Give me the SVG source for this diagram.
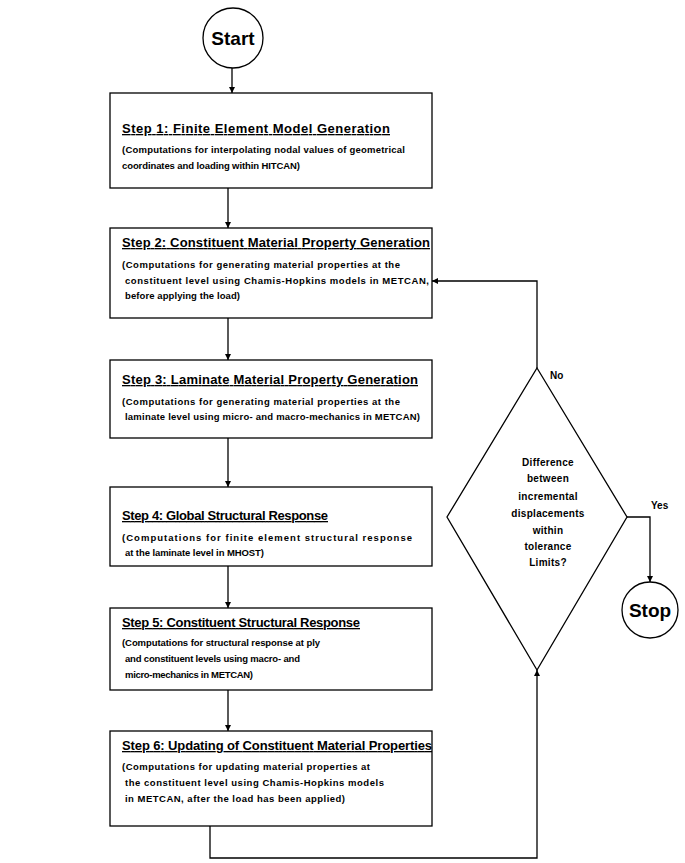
<svg xmlns="http://www.w3.org/2000/svg" width="685" height="863" viewBox="0 0 685 863">
<style>
.b{fill:#fff;stroke:#000;stroke-width:1.3}
.l{fill:none;stroke:#000;stroke-width:1.3}
.t{font-family:"Liberation Sans",Arial,sans-serif;font-weight:bold;font-size:13px;text-decoration:underline;fill:#000}
.d{font-family:"Liberation Sans",Arial,sans-serif;font-weight:bold;font-size:9.5px;fill:#000}
.c{font-family:"Liberation Sans",Arial,sans-serif;font-weight:bold;font-size:10px;fill:#000;text-anchor:middle;letter-spacing:0.3px}
.n{font-family:"Liberation Sans",Arial,sans-serif;font-weight:bold;font-size:19px;fill:#000;text-anchor:middle}
.y{font-family:"Liberation Sans",Arial,sans-serif;font-weight:bold;font-size:10px;fill:#000}
</style>
<defs>
<marker id="a" viewBox="0 0 10 10" refX="10" refY="5" markerWidth="6" markerHeight="8" orient="auto" markerUnits="userSpaceOnUse"><path d="M0,0 L10,5 L0,10 z" fill="#000"/></marker>
</defs>
<g id="connectors">
<line class="l" x1="232" y1="68" x2="232" y2="93" marker-end="url(#a)"/>
<line class="l" x1="228" y1="188" x2="228" y2="228" marker-end="url(#a)"/>
<line class="l" x1="228" y1="318" x2="228" y2="360" marker-end="url(#a)"/>
<line class="l" x1="228" y1="438" x2="228" y2="487" marker-end="url(#a)"/>
<line class="l" x1="228" y1="566" x2="228" y2="608" marker-end="url(#a)"/>
<line class="l" x1="228" y1="690" x2="228" y2="731" marker-end="url(#a)"/>
<polyline class="l" points="210,826 210,858 537,858 537,670" marker-end="url(#a)"/>
<polyline class="l" points="537,368 537,281 432,281" marker-end="url(#a)"/>
<polyline class="l" points="627,517 650,517 650,582" marker-end="url(#a)"/>
<text class="y" x="550" y="379">No</text>
<text class="y" x="651" y="509">Yes</text>
</g>
<g id="start">
<circle class="b" cx="233" cy="38" r="30"/>
<text class="n" x="233" y="45">Start</text>
</g>
<g id="step1">
<rect class="b" x="110" y="93" width="322" height="95"/>
<text class="t" x="122" y="133" textLength="268" lengthAdjust="spacing">Step 1: Finite Element Model Generation</text>
<text class="d" x="122" y="153" textLength="283" lengthAdjust="spacing">(Computations for interpolating nodal values of geometrical</text>
<text class="d" x="122" y="169" textLength="178" lengthAdjust="spacing">coordinates and loading within HITCAN)</text>
</g>
<g id="step2">
<rect class="b" x="110" y="228" width="322" height="90"/>
<text class="t" x="122" y="247" textLength="308" lengthAdjust="spacing">Step 2: Constituent Material Property Generation</text>
<text class="d" x="122" y="268" textLength="278" lengthAdjust="spacing">(Computations for generating material properties at the</text>
<text class="d" x="125" y="284" textLength="304" lengthAdjust="spacing">constituent level using Chamis-Hopkins models in METCAN,</text>
<text class="d" x="125" y="299" textLength="115" lengthAdjust="spacing">before applying the load)</text>
</g>
<g id="step3">
<rect class="b" x="110" y="360" width="322" height="78"/>
<text class="t" x="122" y="384" textLength="296" lengthAdjust="spacing">Step 3: Laminate Material Property Generation</text>
<text class="d" x="122" y="405" textLength="278" lengthAdjust="spacing">(Computations for generating material properties at the</text>
<text class="d" x="125" y="420" textLength="295" lengthAdjust="spacing">laminate level using micro- and macro-mechanics in METCAN)</text>
</g>
<g id="step4">
<rect class="b" x="110" y="487" width="322" height="79"/>
<text class="t" x="122" y="520" textLength="206" lengthAdjust="spacing">Step 4: Global Structural Response</text>
<text class="d" x="122" y="541" textLength="290" lengthAdjust="spacing">(Computations for finite element structural response</text>
<text class="d" x="125" y="556" textLength="139" lengthAdjust="spacing">at the laminate level in MHOST)</text>
</g>
<g id="step5">
<rect class="b" x="110" y="608" width="322" height="82"/>
<text class="t" x="122" y="627" textLength="238" lengthAdjust="spacing">Step 5: Constituent Structural Response</text>
<text class="d" x="122" y="646" textLength="198" lengthAdjust="spacing">(Computations for structural response at ply</text>
<text class="d" x="125" y="662" textLength="175" lengthAdjust="spacing">and constituent levels using macro- and</text>
<text class="d" x="125" y="678" textLength="128" lengthAdjust="spacing">micro-mechanics in METCAN)</text>
</g>
<g id="step6">
<rect class="b" x="110" y="731" width="322" height="95"/>
<text class="t" x="122" y="750" textLength="310" lengthAdjust="spacing">Step 6: Updating of Constituent Material Properties</text>
<text class="d" x="122" y="770" textLength="248" lengthAdjust="spacing">(Computations for updating material properties at</text>
<text class="d" x="125" y="786" textLength="259" lengthAdjust="spacing">the constituent level using Chamis-Hopkins models</text>
<text class="d" x="125" y="802" textLength="220" lengthAdjust="spacing">in METCAN, after the load has been applied)</text>
</g>
<g id="decision">
<polygon class="b" points="537,368 627,517 537,670 447,517"/>
<text class="c" x="548" y="466">Difference</text>
<text class="c" x="548" y="482">between</text>
<text class="c" x="548" y="500">incremental</text>
<text class="c" x="548" y="517">displacements</text>
<text class="c" x="548" y="534">within</text>
<text class="c" x="548" y="550">tolerance</text>
<text class="c" x="548" y="566">Limits?</text>
</g>
<g id="stop">
<circle class="b" cx="650" cy="610" r="28"/>
<text class="n" x="650" y="617">Stop</text>
</g>
</svg>
